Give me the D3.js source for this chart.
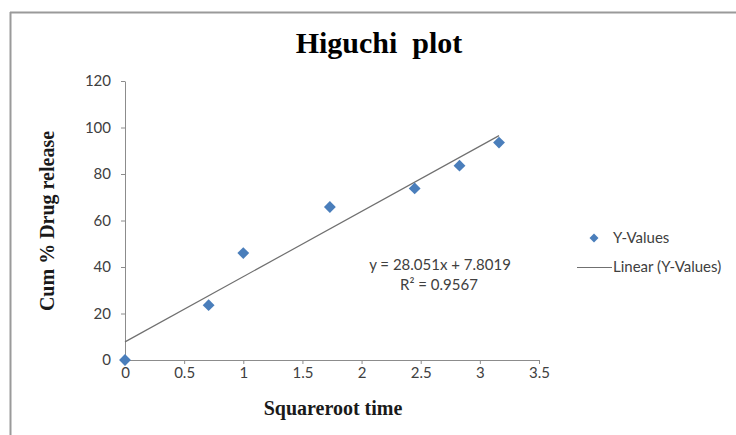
<!DOCTYPE html>
<html><head><meta charset="utf-8">
<script src="https://cdn.jsdelivr.net/npm/d3@7"></script>
<style>html,body{margin:0;padding:0;background:#fff;}svg{display:block;}</style>
</head><body>
<svg id="c" width="736" height="435"></svg>
<script>
const xValues = [0, 0.707, 1, 1.732, 2.449, 2.828, 3.162];
const yValues = [0, 23.6, 46.0, 65.8, 73.8, 83.6, 93.5];
const xTicks = [0, 0.5, 1, 1.5, 2, 2.5, 3, 3.5];
const yTicks = [0, 20, 40, 60, 80, 100, 120];
const slope = 28.051, intercept = 7.8019;
const equationText = "y = 28.051x + 7.8019";
const r2Text = "R² = 0.9567";
const titleText = "Higuchi  plot";
const xTitle = "Squareroot time";
const yTitle = "Cum % Drug release";
const legendLabels = ["Y-Values", "Linear (Y-Values)"];

const svg = d3.select("#c");
const x = d3.scaleLinear().domain([0, 3.5]).range([125, 539]);
const y = d3.scaleLinear().domain([0, 120]).range([360, 81]);
const axisColor = "#8c8c8c", textColor = "#404040", blue = "#4a7ebb";
const tickFont = "Lato, 'Liberation Sans', Arial, sans-serif";
const serif = "'Liberation Serif', 'Times New Roman', serif";

// outer chart border (top and left visible)
svg.append("line").attr("x1", 10).attr("x2", 736).attr("y1", 12.5).attr("y2", 12.5).attr("stroke", "#9a9a9a").attr("stroke-width", 2);
svg.append("line").attr("x1", 10.5).attr("x2", 10.5).attr("y1", 12).attr("y2", 435).attr("stroke", "#9a9a9a").attr("stroke-width", 2);

// axes
const xAxis = svg.append("g").attr("transform", "translate(0,360)")
  .call(d3.axisBottom(x).tickValues(xTicks).tickSize(4).tickSizeOuter(0).tickPadding(3).tickFormat(d3.format("")));
const yAxis = svg.append("g").attr("transform", "translate(125,0)")
  .call(d3.axisLeft(y).tickValues(yTicks).tickSize(4).tickSizeOuter(0).tickPadding(10));
[xAxis, yAxis].forEach(g => {
  g.select(".domain").attr("stroke", axisColor);
  g.selectAll(".tick line").attr("stroke", axisColor);
  g.selectAll(".tick text").attr("fill", textColor).style("font-family", tickFont).style("font-size", "15px");
});

// trendline
svg.append("line")
  .attr("x1", x(0)).attr("y1", y(intercept))
  .attr("x2", x(d3.max(xValues))).attr("y2", y(slope * d3.max(xValues) + intercept))
  .attr("stroke", "#707070").attr("stroke-width", 1.2);

// points
const diamond = d3.symbol().type(d3.symbolSquare).size(70);
svg.append("g").selectAll("path").data(xValues.map((v, i) => [v, yValues[i]])).join("path")
  .attr("d", diamond)
  .attr("transform", d => `translate(${x(d[0])},${y(d[1])}) rotate(45)`)
  .attr("fill", blue);

// equation
svg.append("text").attr("x", 440).attr("y", 270).attr("text-anchor", "middle")
  .attr("fill", textColor).style("font-family", tickFont).style("font-size", "15px").text(equationText);
svg.append("text").attr("x", 439).attr("y", 290).attr("text-anchor", "middle")
  .attr("fill", textColor).style("font-family", tickFont).style("font-size", "15px").text(r2Text);

// title
svg.append("text").attr("x", 379).attr("y", 53).attr("text-anchor", "middle")
  .style("font-family", serif).style("font-weight", "bold")
  .style("font-size", "30px").attr("fill", "#000").style("white-space", "pre").attr("xml:space", "preserve").text(titleText);

// axis titles
svg.append("text").attr("x", 333).attr("y", 415).attr("text-anchor", "middle")
  .style("font-family", serif).style("font-weight", "bold").style("font-size", "20px")
  .attr("fill", "#1a1a1a").text(xTitle);
svg.append("text").attr("transform", "translate(54,221) rotate(-90)").attr("text-anchor", "middle")
  .style("font-family", serif).style("font-weight", "bold").style("font-size", "20px")
  .attr("fill", "#1a1a1a").text(yTitle);

// legend
const leg = svg.append("g");
leg.append("path").attr("d", d3.symbol().type(d3.symbolSquare).size(40)())
  .attr("transform", "translate(594,238) rotate(45)").attr("fill", blue);
leg.append("text").attr("x", 613).attr("y", 243).attr("fill", textColor)
  .style("font-family", tickFont).style("font-size", "15px").text(legendLabels[0]);
leg.append("line").attr("x1", 577).attr("x2", 612).attr("y1", 267.5).attr("y2", 267.5).attr("stroke", "#707070").attr("stroke-width", 1.2);
leg.append("text").attr("x", 613).attr("y", 272).attr("fill", textColor)
  .style("font-family", tickFont).style("font-size", "15px").text(legendLabels[1]);
</script>
</body></html>
